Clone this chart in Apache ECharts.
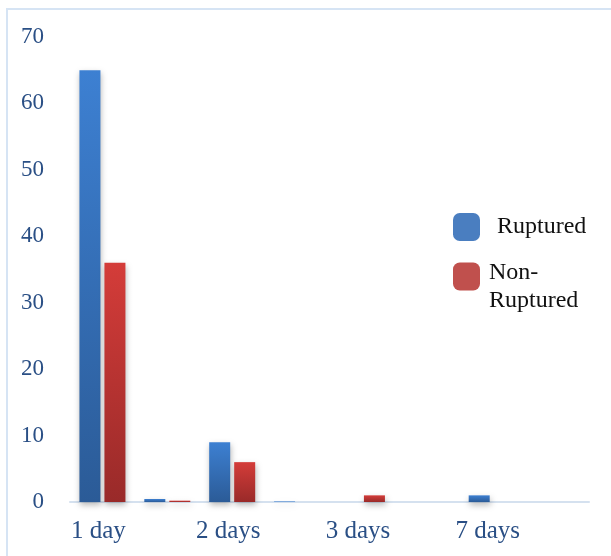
<!DOCTYPE html>
<html>
<head>
<meta charset="utf-8">
<script src="https://cdn.jsdelivr.net/npm/echarts@6/dist/echarts.min.js"></script>
<style>
  html, body { margin: 0; padding: 0; background: #ffffff; }
  #chart { width: 611px; height: 556px; }
</style>
</head>
<body>
<div id="chart"></div>
<script>
// Time-to-event groups (unlabelled slots sit between the named groups)
const categories = ['1 day', '', '2 days', '', '3 days', '', '7 days', ''];
const ruptured = [65, 0.45, 9, 0.08, 0, 0, 1, 0];
const nonRuptured = [36, 0.2, 6, 0, 1, 0, 0, 0];
const yTicks = [0, 10, 20, 30, 40, 50, 60, 70];

const serif = '"Liberation Serif", "DejaVu Serif", serif';

function vGrad(top, bottom) {
  return new echarts.graphic.LinearGradient(0, 0, 0, 1, [
    { offset: 0, color: top },
    { offset: 1, color: bottom }
  ]);
}

const chart = echarts.init(document.getElementById('chart'), null, { renderer: 'canvas' });

chart.setOption({
  backgroundColor: '#ffffff',
  animation: false,
  graphic: [{
    type: 'rect',
    shape: { x: 7, y: 9, width: 800, height: 800 },
    style: { fill: 'none', stroke: '#d6e4f4', lineWidth: 2 },
    silent: true,
    z: 0
  }],
  grid: { left: 70, right: 22, top: 37, bottom: 54, containLabel: false },
  legend: {
    orient: 'vertical',
    left: 453,
    top: 213,
    padding: 0,
    itemWidth: 27,
    itemHeight: 28,
    itemGap: -3,
    icon: 'roundRect',
    selectedMode: false,
    textStyle: {
      fontFamily: serif, fontSize: 24, color: '#111111', lineHeight: 28,
      rich: {
        gap: { fontSize: 8, lineHeight: 21, height: 21 },
        t: { fontFamily: serif, fontSize: 24, color: '#111111', lineHeight: 28 }
      }
    },
    data: [
      { name: 'Ruptured', itemStyle: { color: '#4a7ec0' }, textStyle: { padding: [0, 0, 0, 12] } },
      { name: 'Non-Ruptured', itemStyle: { color: '#c0504d' }, textStyle: { padding: [0, 0, 0, 4] } }
    ],
    formatter: function (name) {
      return name === 'Non-Ruptured' ? '{gap| }\n{t|Non-}\n{t|Ruptured}' : name;
    }
  },
  xAxis: {
    type: 'category',
    data: categories,
    axisLine: { show: true, lineStyle: { color: '#d5e1ef', width: 2 } },
    axisTick: { show: false },
    axisLabel: {
      interval: 0,
      margin: 17,
      fontFamily: serif,
      fontSize: 25,
      color: '#2a4f85',
      padding: [0, 8, 0, 0]
    },
    splitLine: { show: false }
  },
  yAxis: {
    type: 'value',
    min: yTicks[0],
    max: yTicks[yTicks.length - 1],
    interval: 10,
    axisLine: { show: false },
    axisTick: { show: false },
    splitLine: { show: false },
    axisLabel: {
      margin: 26,
      fontFamily: serif,
      fontSize: 23,
      color: '#2a4f85'
    }
  },
  series: [
    {
      name: 'Ruptured',
      type: 'bar',
      data: ruptured,
      barWidth: 21,
      barGap: '19%',
      itemStyle: {
        color: vGrad('#3d80d2', '#2b5b97'),
        shadowColor: 'rgba(0,0,0,0.28)',
        shadowBlur: 6,
        shadowOffsetX: 1,
        shadowOffsetY: 3
      }
    },
    {
      name: 'Non-Ruptured',
      type: 'bar',
      data: nonRuptured,
      barWidth: 21,
      itemStyle: {
        color: vGrad('#d43c39', '#992a29'),
        shadowColor: 'rgba(0,0,0,0.28)',
        shadowBlur: 6,
        shadowOffsetX: 1,
        shadowOffsetY: 3
      }
    }
  ]
});
</script>
</body>
</html>
